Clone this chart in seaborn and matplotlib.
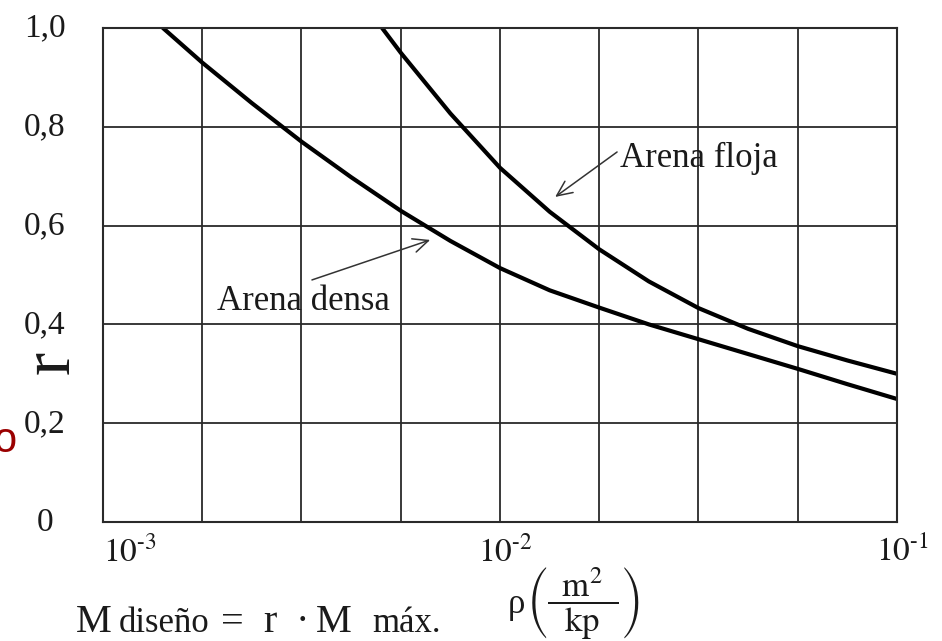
import numpy as np
import pandas as pd
import matplotlib
matplotlib.use('Agg')
import matplotlib.pyplot as plt
import matplotlib.transforms as mtransforms
from matplotlib.ticker import FixedLocator, NullFormatter
import seaborn as sns

# ---- data ----
rho_densa = [0.001416, 0.001778, 0.002371, 0.003162, 0.004217, 0.005623, 0.007499, 0.0100,
             0.01334, 0.01778, 0.02371, 0.03162, 0.04217, 0.05623, 0.07499, 0.100]
r_densa = [1.000, 0.930, 0.848, 0.770, 0.698, 0.630, 0.569, 0.514,
           0.469, 0.434, 0.400, 0.370, 0.340, 0.310, 0.279, 0.249]
rho_floja = [0.005047, 0.005623, 0.007499, 0.0100, 0.01334, 0.01778, 0.02371, 0.03162,
             0.04217, 0.05623, 0.07499, 0.100]
r_floja = [1.000, 0.950, 0.827, 0.717, 0.628, 0.552, 0.487, 0.433,
           0.391, 0.356, 0.327, 0.300]

x_major = [1e-3, 1e-2, 1e-1]
x_major_labels = [r'$10^{\text{-}3}$', r'$10^{\text{-}2}$', r'$10^{\text{-}1}$']
x_grid = [1e-3, 1.778e-3, 3.162e-3, 5.623e-3, 1e-2, 1.778e-2, 3.162e-2, 5.623e-2, 1e-1]
y_ticks = [0, 0.2, 0.4, 0.6, 0.8, 1.0]
y_labels = ['0', '0,2', '0,4', '0,6', '0,8', '1,0']

sns.set_style('white')
plt.rcParams['font.family'] = ['Liberation Serif', 'DejaVu Serif']
plt.rcParams['mathtext.fontset'] = 'stix'

W, H = 942, 641
fig = plt.figure(figsize=(W / 100, H / 100), dpi=100)
fig.patch.set_facecolor('white')


def fx(x):
    return x / W


def fy(y):
    return 1 - y / H


ax = fig.add_axes([fx(103), fy(522), (897 - 103) / W, (522 - 28) / H])

df_densa = pd.DataFrame({'rho': rho_densa, 'r': r_densa})
df_floja = pd.DataFrame({'rho': rho_floja, 'r': r_floja})
sns.lineplot(data=df_densa, x='rho', y='r', color='black', lw=3.0, ax=ax, sort=False)
sns.lineplot(data=df_floja, x='rho', y='r', color='black', lw=3.0, ax=ax, sort=False)

ax.set_xscale('log')
ax.set_xlim(1e-3, 1e-1)
ax.set_ylim(0, 1.0)
ax.set_xlabel('')
ax.set_ylabel('')

grid_color = '#2a2a2a'
ax.xaxis.set_major_locator(FixedLocator(x_major))
ax.xaxis.set_minor_locator(FixedLocator(x_grid))
ax.xaxis.set_minor_formatter(NullFormatter())
ax.set_xticklabels(x_major_labels)
ax.set_yticks(y_ticks)
ax.set_yticklabels(y_labels)
ax.grid(True, which='both', axis='x', color=grid_color, lw=1.3)
ax.grid(True, which='major', axis='y', color=grid_color, lw=1.3)
for s in ax.spines.values():
    s.set_visible(True)
    s.set_color(grid_color)
    s.set_linewidth(1.5)

ax.tick_params(which='both', length=0)
ax.tick_params(axis='x', labelsize=24, pad=10, colors='#1a1a1a')
ax.tick_params(axis='y', labelsize=24, pad=41.8, colors='#1a1a1a')

# x tick label alignment as in the reference
xl = ax.get_xticklabels()
xl[0].set_ha('left')
for lbl in xl[1:]:
    lbl.set_transform(lbl.get_transform() + mtransforms.ScaledTranslation(5 / 100, 0, fig.dpi_scale_trans))
for lbl in ax.get_yticklabels():
    lbl.set_ha('center')
    lbl.set_transform(lbl.get_transform() + mtransforms.ScaledTranslation(0, 3 / 100, fig.dpi_scale_trans))

# annotations
arrow_kw = dict(arrowstyle='->,head_length=0.55,head_width=0.25', lw=1.1, color='#333333',
                shrinkA=0, shrinkB=0, mutation_scale=20)
ax.annotate('', xy=(0.01377, 0.658), xytext=(0.01972, 0.749), arrowprops=arrow_kw)
ax.text(0.0200, 0.719, 'Arena floja', fontsize=25, color='#1a1a1a', ha='left', va='baseline')
ax.annotate('', xy=(0.00667, 0.571), xytext=(0.00336, 0.490), arrowprops=arrow_kw)
ax.text(0.00194, 0.429, 'Arena densa', fontsize=25, color='#1a1a1a', ha='left', va='baseline')

# y label "r"
fig.text(fx(52), fy(362), 'r', fontsize=50, rotation=90, ha='center', va='center', color='#1a1a1a')

# cut-off red letter at left edge
fig.text(fx(16), fy(441), 'o', fontsize=30, family=['Liberation Sans', 'DejaVu Sans'],
         color='#9a0000', ha='right', va='center')

# bottom formula
base = fy(632)
pieces = [(76, 'M', 29), (119, 'diseño', 25), (221, '=', 29), (263, 'r', 29),
          (296, '·', 29), (316, 'M', 29), (372, 'máx.', 25)]
for x0, s, fs in pieces:
    fig.text(fx(x0), base, s, fontsize=fs, ha='left', va='baseline', color='#1a1a1a')

fig.text(fx(508), fy(613), 'ρ', fontsize=25, ha='left', va='baseline', color='#1a1a1a')
fig.text(fx(526), fy(603), r'$\left(\dfrac{\;\;\mathrm{m}^{2}\;\;}{\;\;\mathrm{kp}\;\;}\right)$', fontsize=25,
         ha='left', va='center', color='#1a1a1a')

fig.savefig('out.png', dpi=100, facecolor='white')
